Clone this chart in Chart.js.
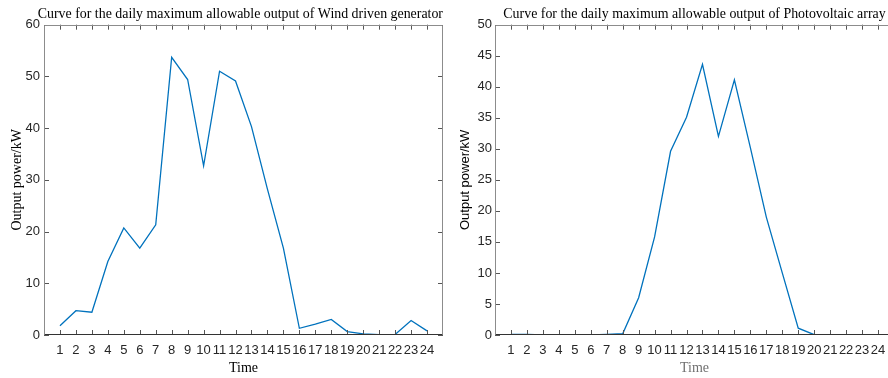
<!DOCTYPE html>
<html>
<head>
<meta charset="utf-8">
<script src="https://cdn.jsdelivr.net/npm/chart.js@4.4.1/dist/chart.umd.min.js"></script>
<style>
html,body{margin:0;padding:0;background:#fff;overflow:hidden;width:888px;height:378px;}
#wind{position:absolute;left:0;top:0;}
#pv{position:absolute;left:444px;top:0;}
</style>
</head>
<body>
<canvas id="wind" width="444" height="378"></canvas>
<canvas id="pv" width="452" height="378"></canvas>
<script>
var hours = [1, 2, 3, 4, 5, 6, 7, 8, 9, 10, 11, 12, 13, 14, 15, 16, 17, 18, 19, 20, 21, 22, 23, 24];
var windPower = [1.8, 4.7, 4.4, 14.2, 20.7, 16.8, 21.3, 53.7, 49.4, 32.7, 51.0, 49.1, 40.3, 28.2, 16.8, 1.3, 2.1, 3.0, 0.65, 0.2, 0.05, 0.1, 2.8, 0.8];
var pvPower = [0.1, 0.1, 0, 0, 0, 0, 0.1, 0.2, 6.0, 15.8, 29.6, 35.1, 43.6, 32.0, 41.1, 30.2, 19.0, 10.0, 1.1, 0.05, 0, 0, 0, 0];
var windYTicks = [0, 10, 20, 30, 40, 50, 60];
var pvYTicks = [0, 5, 10, 15, 20, 25, 30, 35, 40, 45, 50];

var windTitle = "Curve for the daily maximum allowable output of Wind driven generator";
var pvTitle = "Curve for the daily maximum allowable output of Photovoltaic array";

var lineColor = "#0072BD";
var tickColor = "#262626";

// MATLAB style box with ticks pointing inwards
var boxPlugin = {
	id : "box",
	afterDatasetsDraw : function(chart) {
		var ctx = chart.ctx;
		var a = chart.chartArea;
		var xs = chart.scales.x;
		var ys = chart.scales.y;
		var len = 5;
		ctx.save();
		ctx.lineWidth = 1;
		ctx.strokeStyle = "#555";
		ctx.beginPath();
		xs.ticks.forEach(function(t) {
			var px = Math.round(xs.getPixelForValue(t.value)) + 0.5;
			ctx.moveTo(px, a.bottom);
			ctx.lineTo(px, a.bottom - len);
			ctx.moveTo(px, a.top);
			ctx.lineTo(px, a.top + len);
		});
		ys.ticks.forEach(function(t) {
			var py = Math.round(ys.getPixelForValue(t.value)) + 0.5;
			ctx.moveTo(a.left, py);
			ctx.lineTo(a.left + len, py);
			ctx.moveTo(a.right, py);
			ctx.lineTo(a.right - len, py);
		});
		ctx.stroke();

		var l = Math.round(a.left) + 0.5, r = Math.round(a.right) - 0.5;
		var t = Math.round(a.top) + 0.5, b = Math.round(a.bottom) - 0.5;
		ctx.strokeStyle = "#8c8c8c";
		ctx.beginPath();
		ctx.moveTo(l, b);
		ctx.lineTo(l, t);
		ctx.lineTo(r, t);
		ctx.lineTo(r, b);
		ctx.stroke();
		ctx.strokeStyle = "#333";
		ctx.beginPath();
		ctx.moveTo(l, b);
		ctx.lineTo(r, b);
		ctx.stroke();
		ctx.restore();
	}
};

function makeChart(id, values, yTicks, title, cfg) {
	var points = [];
	for (var i = 0; i < hours.length; i++) {
		points.push({ x : hours[i], y : values[i] });
	}
	var ctx = document.getElementById(id).getContext("2d");
	return new Chart(ctx, {
		type : "line",
		data : {
			datasets : [ {
				data : points,
				borderColor : lineColor,
				borderWidth : 1.3,
				pointRadius : 0,
				tension : 0,
				fill : false
			} ]
		},
		plugins : [ boxPlugin ],
		options : {
			responsive : false,
			animation : false,
			layout : {
				padding : { left : 0, right : cfg.padRight, top : 0, bottom : 0 }
			},
			plugins : {
				legend : { display : false },
				tooltip : { enabled : false },
				title : {
					display : true,
					text : title,
					fullSize : cfg.titleFull,
					align : cfg.titleAlign,
					color : "#000",
					font : { family : "Liberation Serif", size : 13.9, weight : "normal" },
					padding : { top : 6, bottom : 2 }
				}
			},
			scales : {
				x : {
					type : "linear",
					min : 0,
					max : 25,
					afterBuildTicks : function(scale) {
						scale.ticks = hours.map(function(h) {
							return { value : h };
						});
					},
					afterFit : function(scale) {
						scale.height = 43;
					},
					grid : { display : false, drawTicks : false },
					border : { display : false },
					ticks : {
						autoSkip : false,
						maxRotation : 0,
						padding : 8,
						color : tickColor,
						font : { family : "Liberation Sans", size : 13 }
					},
					title : {
						display : true,
						text : "Time",
						color : cfg.xTitleColor,
						font : { family : "Liberation Serif", size : 14 },
						padding : { top : 0, bottom : 1 }
					}
				},
				y : {
					min : yTicks[0],
					max : yTicks[yTicks.length - 1],
					afterBuildTicks : function(scale) {
						scale.ticks = yTicks.map(function(v) {
							return { value : v };
						});
					},
					afterFit : function(scale) {
						scale.width = cfg.yWidth;
					},
					grid : { display : false, drawTicks : false },
					border : { display : false },
					ticks : {
						padding : cfg.yPad,
						color : tickColor,
						font : { family : "Liberation Sans", size : 13 }
					},
					title : {
						display : true,
						text : "Output power/kW",
						color : "#000",
						font : { family : cfg.yTitleFont, size : cfg.yTitleSize },
						padding : { top : cfg.yTitleOffset, bottom : 0 }
					}
				}
			}
		}
	});
}

window.onload = function() {
	makeChart("wind", windPower, windYTicks, windTitle, {
		padRight : 1, yWidth : 44, yPad : 4, yTitleOffset : 9,
		yTitleFont : "Liberation Serif", yTitleSize : 14, xTitleColor : "#000",
		titleFull : true, titleAlign : "end"
	});
	makeChart("pv", pvPower, pvYTicks, pvTitle, {
		padRight : 2, yWidth : 51, yPad : 3, yTitleOffset : 14,
		yTitleFont : "Liberation Sans", yTitleSize : 13, xTitleColor : "#707070",
		titleFull : false, titleAlign : "center"
	});
};
</script>
</body>
</html>
